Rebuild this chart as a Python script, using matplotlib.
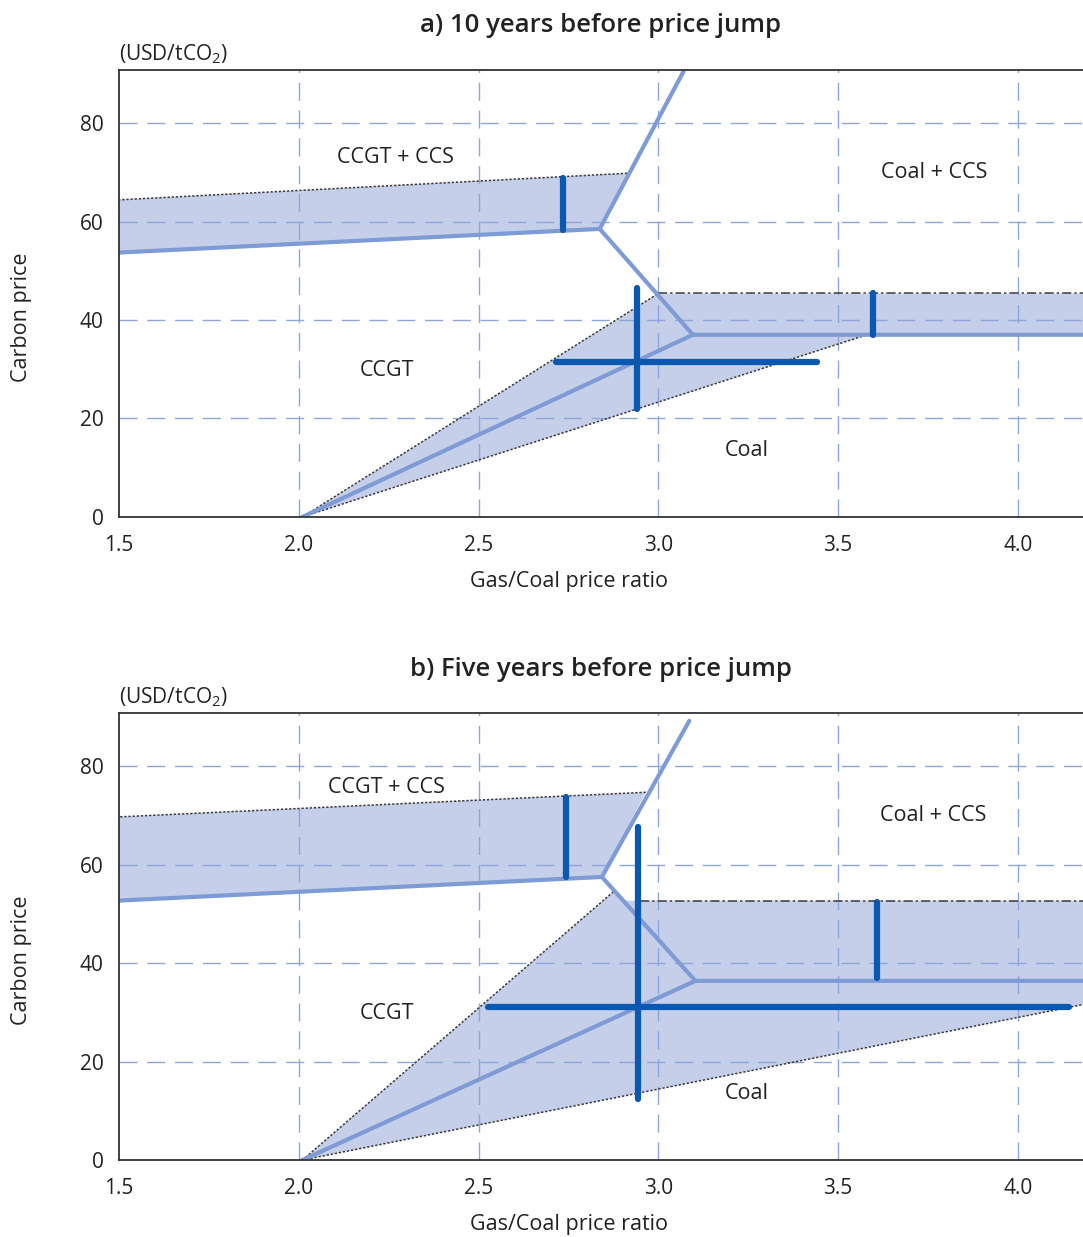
import matplotlib
matplotlib.use('Agg')
import matplotlib.pyplot as plt

plt.rcParams['font.family'] = ['Open Sans', 'DejaVu Sans']
plt.rcParams['mathtext.fontset'] = 'custom'
plt.rcParams['mathtext.rm'] = 'Open Sans'

# 軸的刻度
x_ticks = [1.5, 2.0, 2.5, 3.0, 3.5, 4.0]
y_ticks = [0, 20, 40, 60, 80]
x_max, y_max = 4.181, 90.8

titles = ['a) 10 years before price jump', 'b) Five years before price jump']

# a) 10 年前
a_band_x = [1.5, 2.837, 2.913, 1.5]          # CCGT + CCS 的範圍
a_band_y = [53.7, 58.5, 69.8, 64.4]
a_up_x, a_up_y = [2.837, 3.07], [58.5, 90.5]
a_kink_x, a_kink_y = [2.837, 3.096, 4.3], [58.5, 37.0, 37.0]
a_diag_x, a_diag_y = [2.01, 3.096], [0, 37.0]
a_low_x = [2.01, 3.0, 4.3, 4.3, 3.58]         # Coal 與 Coal + CCS 的範圍
a_low_y = [0, 45.4, 45.4, 37.0, 37.0]
a_dash_x, a_dash_y = [3.0, 4.3], [45.4, 45.4]
a_bars = [([2.736, 2.736], [58.3, 68.9]),
          ([3.596, 3.596], [37.0, 45.4]),
          ([2.94, 2.94], [22.0, 46.6]),
          ([2.715, 3.44], [31.4, 31.4])]

# b) 5 年前
b_band_x = [1.5, 2.843, 2.965, 1.5]
b_band_y = [52.7, 57.5, 74.7, 69.7]
b_up_x, b_up_y = [2.843, 3.086], [57.5, 89.2]
b_kink_x, b_kink_y = [2.843, 3.103, 4.3], [57.5, 36.4, 36.4]
b_diag_x, b_diag_y = [2.01, 3.103], [0, 36.4]
b_low_x = [2.01, 2.875, 2.902, 4.181, 4.181]
b_low_y = [0, 54.5, 52.7, 52.7, 31.6]
b_dash_x, b_dash_y = [2.948, 4.3], [52.7, 52.7]
b_bars = [([2.744, 2.744], [57.5, 73.8]),
          ([3.607, 3.607], [36.9, 52.5]),
          ([2.942, 2.942], [12.5, 67.7]),
          ([2.527, 4.142], [31.1, 31.1])]

label_names = ['CCGT + CCS', 'Coal + CCS', 'CCGT', 'Coal']
a_label_x, a_label_y = [2.27, 3.766, 2.245, 3.245], [73.0, 69.9, 29.8, 13.4]
b_label_x, b_label_y = [2.245, 3.764, 2.245, 3.246], [75.7, 70.0, 29.8, 13.6]

panels = [
    (a_band_x, a_band_y, a_up_x, a_up_y, a_kink_x, a_kink_y, a_diag_x, a_diag_y,
     a_low_x, a_low_y, a_dash_x, a_dash_y, a_bars, a_label_x, a_label_y),
    (b_band_x, b_band_y, b_up_x, b_up_y, b_kink_x, b_kink_y, b_diag_x, b_diag_y,
     b_low_x, b_low_y, b_dash_x, b_dash_y, b_bars, b_label_x, b_label_y),
]

fill_c = '#c5cfe9'
line_c = '#7f9bd6'
bar_c = '#0b58b0'
grid_c = '#8fa6dd'
dot_c = '#3a3a3a'

fig = plt.figure(figsize=(10.83, 12.37), dpi=100)
bottoms = [0.5821, 0.0622]

for i, p in enumerate(panels):
    (bx, by, ux, uy, kx, ky, dx, dy, lx, ly, ddx, ddy, bars, tx, ty) = p
    ax = fig.add_axes([0.1099, bottoms[i], 0.8901, 0.3614])
    ax.set_xlim(1.5, x_max)
    ax.set_ylim(0, y_max)

    # 填色區域
    ax.fill(bx, by, color=fill_c, lw=0, zorder=0.2)
    ax.fill(lx, ly, color=fill_c, lw=0, zorder=0.2)

    # 虛線邊界
    ax.plot([bx[2], bx[3]], [by[2], by[3]], color=dot_c, lw=1.1, ls=(0, (1.5, 1.2)), zorder=1)
    ax.plot(lx[:2], ly[:2], color=dot_c, lw=1.1, ls=(0, (1.5, 1.2)), zorder=1)
    ax.plot([lx[0], lx[-1]], [ly[0], ly[-1]], color=dot_c, lw=1.1, ls=(0, (1.5, 1.2)), zorder=1)
    ax.plot(ddx, ddy, color=dot_c, lw=1.1, ls=(0, (6, 2, 1.5, 2)), zorder=1)

    # 分界線
    ax.plot(bx[:2], by[:2], color=line_c, lw=3, zorder=2, solid_capstyle='butt')
    ax.plot(ux, uy, color=line_c, lw=3, zorder=2, solid_capstyle='round')
    ax.plot(kx, ky, color=line_c, lw=3, zorder=2, solid_joinstyle='miter')
    ax.plot(dx, dy, color=line_c, lw=3, zorder=2)

    # 深藍色的範圍線
    for xs, ys in bars:
        ax.plot(xs, ys, color=bar_c, lw=4.5, zorder=3, solid_capstyle='round')

    for name, x, y in zip(label_names, tx, ty):
        ax.text(x, y, name, fontsize=15.5, ha='center', va='center', color='#222222')

    ax.set_xticks(x_ticks)
    ax.set_xticklabels(['%.1f' % v for v in x_ticks])
    ax.set_yticks(y_ticks)
    ax.set_axisbelow(True)
    ax.grid(True, color=grid_c, lw=1.0, ls=(0, (13, 7)))
    ax.xaxis.get_gridlines()[0].set_visible(False)
    ax.tick_params(axis='both', length=0, labelsize=15, colors='#222222')
    ax.tick_params(axis='x', pad=13)
    ax.tick_params(axis='y', pad=11)
    for s in ['left', 'bottom', 'top']:
        ax.spines[s].set_color('#333333')
        ax.spines[s].set_linewidth(1.3)
    ax.spines['right'].set_visible(False)

    ax.set_xlabel('Gas/Coal price ratio', fontsize=15.5, color='#222222')
    ax.xaxis.set_label_coords(0.467, -0.12)
    ax.set_ylabel('Carbon price', fontsize=15.5, color='#222222')
    ax.yaxis.set_label_coords(-0.09, 0.446)
    ax.text(0, 1.008, r'(USD/tCO$_\mathregular{2}$)', transform=ax.transAxes,
            fontsize=15, ha='left', va='bottom', color='#222222')
    ax.set_title(titles[i], fontsize=18.5, fontweight='semibold', color='#222222', pad=27)

fig.savefig('out.png', dpi=100)
